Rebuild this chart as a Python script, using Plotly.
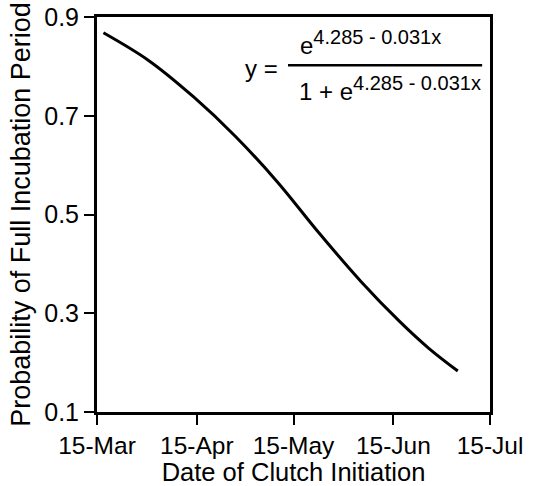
import plotly.graph_objects as go

# Day of year (x) and probability
days = [76, 90, 104, 117, 130, 143, 156, 168, 177, 186]
prob = [0.868, 0.812, 0.738, 0.658, 0.566, 0.462, 0.364, 0.283, 0.229, 0.183]

tick_days = [74, 105, 135, 166, 196]
tick_labels = ["15-Mar", "15-Apr", "15-May", "15-Jun", "15-Jul"]
y_ticks = [0.1, 0.3, 0.5, 0.7, 0.9]

FONT = "Liberation Sans, Arial, Helvetica, sans-serif"

fig = go.Figure()
fig.add_trace(go.Scatter(x=days, y=prob, mode="lines",
                         line=dict(color="black", width=3, shape="spline", smoothing=1.0),
                         showlegend=False))

fig.update_layout(
    width=537, height=486,
    margin=dict(l=97, r=47, t=17, b=74),
    paper_bgcolor="white", plot_bgcolor="white",
    font=dict(family=FONT, size=24, color="black"),
    xaxis=dict(range=[74, 196], tickvals=tick_days, ticktext=tick_labels, automargin=False,
               showgrid=False, zeroline=False, showline=True, linecolor="black",
               linewidth=3, mirror=True, ticks="outside", ticklen=10, tickwidth=1.5,
               tickcolor="black", tickfont=dict(size=24.5),
               title=dict(text="Date of Clutch Initiation", font=dict(size=25.5), standoff=4)),
    yaxis=dict(range=[0.1, 0.9], tickvals=y_ticks, ticktext=["0.1", "0.3", "0.5", "0.7", "0.9"],
               automargin=False,
               showgrid=False, zeroline=False, showline=True, linecolor="black",
               linewidth=3, mirror=True, ticks="outside", ticklen=10, tickwidth=1.5,
               tickcolor="black", tickfont=dict(size=25),
               title=dict(text="Probability of Full Incubation Period", font=dict(size=27), standoff=6)),
)

SUP = '<sup><span style="font-size:20px">4.285 - 0.031x</span></sup>'
fig.add_annotation(x=0.419, y=0.87, xref="paper", yref="paper", text="y =",
                   showarrow=False, font=dict(size=24), xanchor="center", yanchor="middle")
fig.add_annotation(x=0.697, y=0.935, xref="paper", yref="paper",
                   text="e" + SUP,
                   showarrow=False, font=dict(size=24), xanchor="center", yanchor="middle")
fig.add_annotation(x=0.746, y=0.82, xref="paper", yref="paper",
                   text="1 + e" + SUP,
                   showarrow=False, font=dict(size=24), xanchor="center", yanchor="middle")
fig.add_shape(type="line", xref="paper", yref="paper", x0=0.486, x1=0.98, y0=0.878, y1=0.878,
              line=dict(color="black", width=2.5))

fig.write_html("out.html")
